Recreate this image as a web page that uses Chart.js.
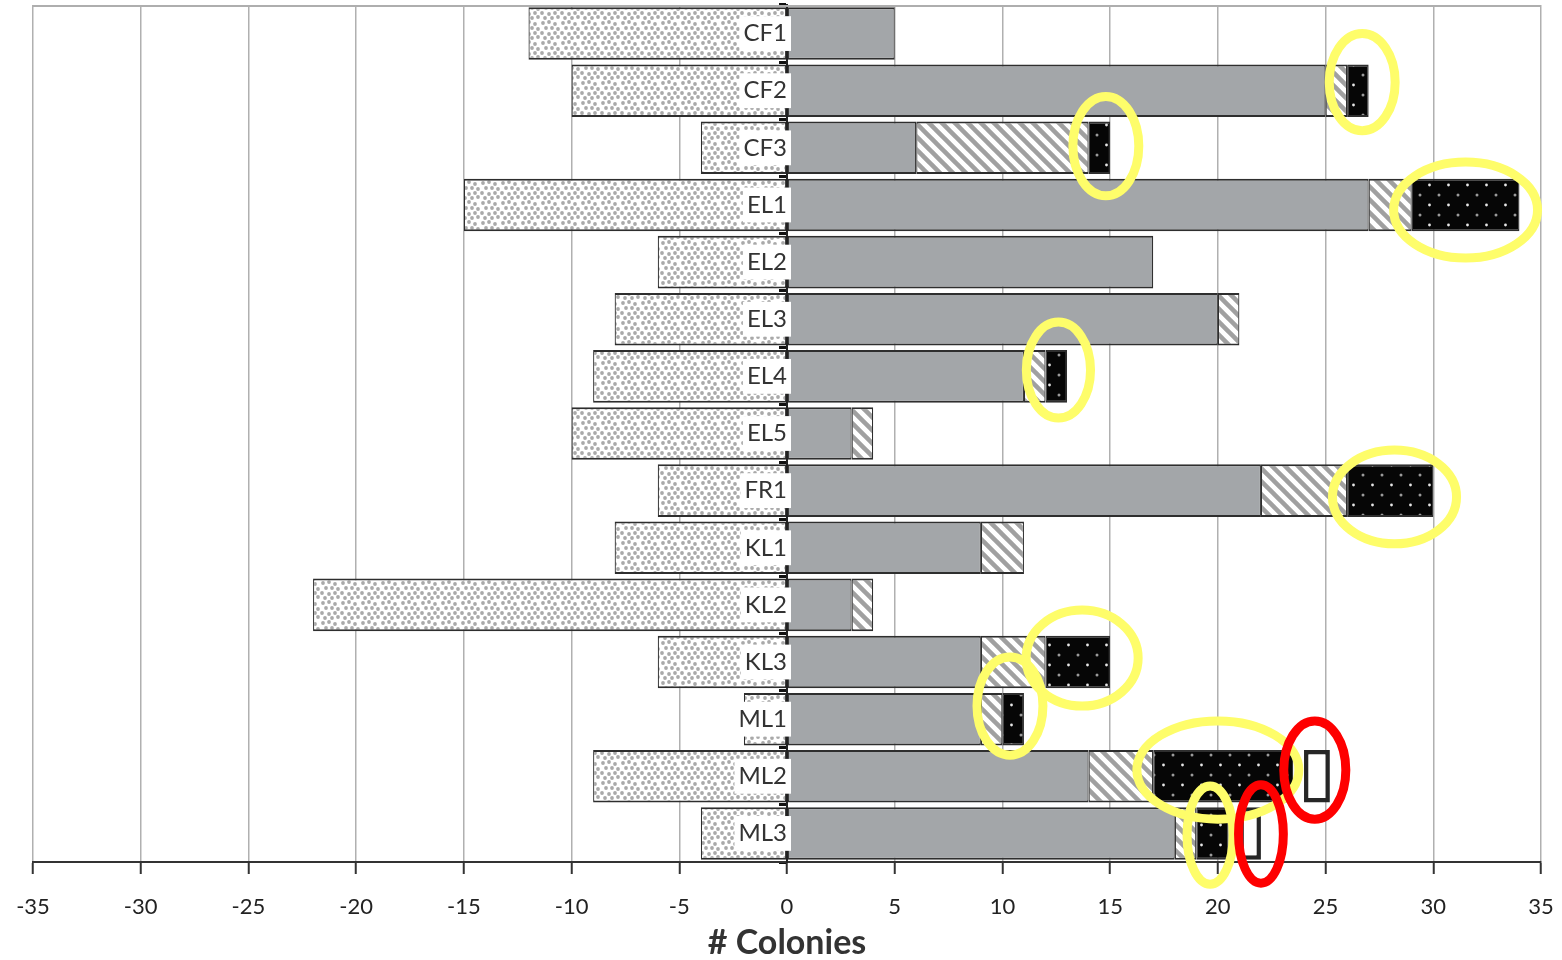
<!DOCTYPE html>
<html>
<head>
<meta charset="utf-8">
<script src="https://cdn.jsdelivr.net/npm/chart.js@4/dist/chart.umd.min.js"></script>
<style>
  html, body { margin: 0; padding: 0; background: #fff; }
  #wrap { width: 1562px; height: 960px; position: relative; }
</style>
</head>
<body>
<div id="wrap"><canvas id="c"></canvas></div>
<script>
// Sites, one bar per row
const categories = ['CF1', 'CF2', 'CF3', 'EL1', 'EL2', 'EL3', 'EL4', 'EL5', 'FR1', 'KL1', 'KL2', 'KL3', 'ML1', 'ML2', 'ML3'];

// Colony counts per site and class (left side is negative)
const negativeCounts = [-12, -10, -4, -15, -6, -8, -9, -10, -6, -8, -22, -6, -2, -9, -4];
const greyCounts     = [5, 25, 6, 27, 17, 20, 11, 3, 22, 9, 3, 9, 9, 14, 18];
const hatchedCounts  = [null, 1, 8, 2, null, 1, 1, 1, 4, 2, 1, 3, 1, 3, 1];
const blackCounts    = [null, 1, 1, 5, null, null, 1, null, 4, null, null, 3, 1, 6.5, 1.5];
const openBoxes      = [null, null, null, null, null, null, null, null, null, null, null, null, null, [24, 25.2], [21, 22]];

// Axis ticks
const xTickMin = -35, xTickMax = 35, xTickStep = 5;

// Highlight rings: [category, x centre, x radius, row offset, row radius]
const yellowRings = [
  ['CF2', 26.7, 1.53, -0.15, 0.85],
  ['CF3', 14.8, 1.53, -0.03, 0.87],
  ['EL1', 31.5, 3.34, 0.09, 0.84],
  ['EL4', 12.6, 1.49, -0.11, 0.84],
  ['FR1', 28.2, 2.88, 0.11, 0.82],
  ['KL3', 13.7, 2.60, -0.07, 0.84],
  ['ML1', 10.35, 1.53, -0.23, 0.86],
  ['ML2', 20.0, 3.76, -0.11, 0.86],
  ['ML3', 19.64, 1.07, 0.03, 0.86]
];
const redRings = [
  ['ML2', 24.5, 1.44, -0.11, 0.86],
  ['ML3', 22.0, 1.04, 0.01, 0.86]
];

const canvas = document.getElementById('c');
const ctx = canvas.getContext('2d');

function tile(w, h, paint) {
  const cv = document.createElement('canvas');
  cv.width = w; cv.height = h;
  const g = cv.getContext('2d');
  paint(g, w, h);
  return ctx.createPattern(cv, 'repeat');
}
function dot(g, x, y, r) { g.beginPath(); g.arc(x, y, r, 0, Math.PI * 2); g.fill(); }

// light grey stipple
const stipple = tile(20, 20, (g, w, h) => {
  g.fillStyle = '#ffffff'; g.fillRect(0, 0, w, h);
  g.fillStyle = '#a9a9a9';
  [[3, 3], [9, 2], [15, 4], [6, 8], [12, 8], [18, 9], [2, 13], [9, 14], [15, 13], [5, 18], [12, 18], [18, 17]]
    .forEach(([x, y]) => dot(g, x, y, 1.9));
});
// grey diagonal hatch
const hatch = tile(13, 13, (g, w, h) => {
  g.fillStyle = '#ffffff'; g.fillRect(0, 0, w, h);
  g.strokeStyle = '#a0a0a0'; g.lineWidth = 4.5;
  [-13, 0, 13].forEach(o => { g.beginPath(); g.moveTo(o - 3, -3); g.lineTo(o + 16, 16); g.stroke(); });
});
// black with small light dots
const dotted = tile(19, 20, (g, w, h) => {
  g.fillStyle = '#060606'; g.fillRect(0, 0, w, h);
  g.fillStyle = '#e6e6e6'; dot(g, 4.5, 5, 1.4);
  g.fillStyle = '#9a9a9a'; dot(g, 14, 15, 1.5);
});

const edge = { top: 2, bottom: 2, left: 1.2, right: 1.2 };

const ringPlugin = {
  id: 'rings',
  beforeDatasetsDraw(chart) {
    const { ctx: c, chartArea: a } = chart;
    c.save();
    c.strokeStyle = '#aeaeae'; c.lineWidth = 2;
    c.beginPath(); c.moveTo(a.left, a.top + 1); c.lineTo(a.right, a.top + 1); c.stroke();
    c.restore();
  },
  afterDatasetsDraw(chart) {
    const { ctx: c, scales: { x, y } } = chart;
    const ux = x.getPixelForValue(1) - x.getPixelForValue(0);
    const uy = y.getPixelForValue(1) - y.getPixelForValue(0);
    const draw = (list, color) => {
      c.save();
      c.strokeStyle = color; c.lineWidth = 9;
      list.forEach(([cat, cx, rx, dy, ry]) => {
        const idx = categories.indexOf(cat) + dy;
        c.beginPath();
        c.ellipse(x.getPixelForValue(cx), y.getPixelForValue(idx), rx * ux, ry * uy, 0, 0, Math.PI * 2);
        c.stroke();
      });
      c.restore();
    };
    draw(yellowRings, '#fefd6a');
    draw(redRings, '#fe0000');
  }
};

new Chart(ctx, {
  type: 'bar',
  data: {
    labels: categories,
    datasets: [
      { label: 'negative', data: negativeCounts, backgroundColor: stipple, stack: 'main' },
      { label: 'grey', data: greyCounts, backgroundColor: '#a3a6a9', stack: 'main' },
      { label: 'hatched', data: hatchedCounts, backgroundColor: hatch, stack: 'main' },
      { label: 'black', data: blackCounts, backgroundColor: dotted, stack: 'main' },
      { label: 'open', data: openBoxes, backgroundColor: '#ffffff', borderColor: '#262626', borderWidth: 4.5, stack: 'open' }
    ]
  },
  options: {
    indexAxis: 'y',
    responsive: true,
    maintainAspectRatio: false,
    animation: false,
    layout: { padding: { left: 33, right: 21, top: 5, bottom: 0 } },
    datasets: {
      bar: {
        grouped: false,
        barPercentage: 0.92,
        categoryPercentage: 1,
        borderColor: '#2e2e2e',
        borderWidth: edge,
        borderSkipped: false
      }
    },
    plugins: { legend: { display: false }, tooltip: { enabled: false } },
    scales: {
      x: {
        type: 'linear',
        stacked: true,
        min: xTickMin,
        max: xTickMax,
        ticks: {
          stepSize: xTickStep,
          color: '#222',
          padding: 20,
          font: { family: "'Liberation Sans Narrow', 'Lato', sans-serif", size: 22 }
        },
        grid: { color: '#b0b0b0', lineWidth: 1.5, tickColor: '#333', tickLength: 12, tickWidth: 2 },
        border: { color: '#333', width: 2 },
        title: {
          display: true,
          text: '# Colonies',
          color: '#333',
          padding: { top: 0, bottom: -3 },
          font: { family: "'Lato', sans-serif", size: 34, weight: 'bold' }
        },
        afterFit(scale) {
          scale.height = 98;
          scale.paddingLeft = 0;
          scale.paddingRight = 0;
        }
      },
      y: {
        type: 'category',
        stacked: true,
        position: { x: 0 },
        offset: true,
        grid: { display: true, drawOnChartArea: false, offset: true, tickLength: 7, tickColor: '#111', tickWidth: 3 },
        border: { display: true, color: '#222', width: 2 },
        ticks: {
          z: 1,
          color: '#333',
          padding: 9,
          font: { family: "'Lato', sans-serif", size: 24 },
          showLabelBackdrop: true,
          backdropColor: '#ffffff',
          backdropPadding: { x: 4, y: 3 }
        },
        afterFit(scale) {
          scale.paddingTop = 0;
          scale.paddingBottom = 0;
        }
      }
    }
  },
  plugins: [ringPlugin]
});
</script>
</body>
</html>
